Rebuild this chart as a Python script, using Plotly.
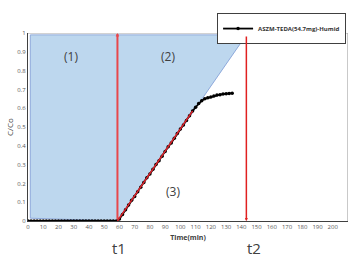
import plotly.graph_objects as go

# Data
time_min = [0, 2, 4, 6, 8, 10, 12, 14, 16, 18, 20, 22, 24, 26, 28, 30, 32, 34, 36, 38,
            40, 42, 44, 46, 48, 50, 52, 54, 56, 58, 60, 62, 64, 66, 68, 70, 72, 74, 76, 78,
            80, 82, 84, 86, 88, 90, 92, 94, 96, 98, 100, 102, 104, 106, 108, 110, 112, 114,
            116, 118, 120, 122, 124, 126, 128, 130, 132, 134]
c_co = [0, 0, 0, 0, 0, 0, 0, 0, 0, 0, 0, 0, 0, 0, 0, 0, 0, 0, 0, 0,
        0, 0, 0, 0, 0, 0, 0, 0, 0, 0, 0.01, 0.035, 0.06, 0.085, 0.11, 0.13, 0.155, 0.18, 0.205, 0.23,
        0.25, 0.275, 0.30, 0.32, 0.345, 0.37, 0.395, 0.415, 0.44, 0.465, 0.49, 0.51, 0.535, 0.56,
        0.585, 0.605, 0.625, 0.64, 0.65, 0.655, 0.66, 0.665, 0.67, 0.672, 0.675, 0.677, 0.678, 0.68]
series_name = "ASZM-TEDA(54.7mg)-Humid"
t1 = 58.7
t2 = 143.3
x_ticks = list(range(0, 211, 10))
y_ticks = [0, 0.1, 0.2, 0.3, 0.4, 0.5, 0.6, 0.7, 0.8, 0.9, 1]

fig = go.Figure()
fig.add_trace(go.Scatter(
    x=time_min, y=c_co, name=f"<b>{series_name}</b>", mode="lines+markers",
    line=dict(color="black", width=1.8),
    marker=dict(color="black", size=3.5),
))

shapes = [
    # blue shaded region
    dict(type="path", xref="x", yref="y",
         path=f"M 1.5,0.015 L 1.5,0.99 L {t2},0.99 L {t1},0.0 Z",
         fillcolor="#BDD7EE", line=dict(color="#8EA9DB", width=1), layer="below"),
    # plot box top/right
    dict(type="line", xref="x", yref="y", x0=0, x1=210, y0=1, y1=1,
         line=dict(color="#A6A6A6", width=1.2)),
    dict(type="line", xref="x", yref="y", x0=210, x1=210, y0=0, y1=1,
         line=dict(color="#A6A6A6", width=1.2)),
    # red tangent
    dict(type="line", xref="x", yref="y", x0=t1, y0=0, x1=108, y1=0.585,
         line=dict(color="#D9232A", width=1.5), layer="above"),
]

annotations = [
    # red arrows
    dict(x=t1, y=1, ax=t1, ay=0, xref="x", yref="y", axref="x", ayref="y",
         text="", showarrow=True, arrowhead=2, arrowsize=0.35, arrowwidth=2, arrowcolor="#E8474B"),
    dict(x=t2, y=0, ax=t2, ay=0.99, xref="x", yref="y", axref="x", ayref="y",
         text="", showarrow=True, arrowhead=2, arrowsize=0.4, arrowwidth=1.5, arrowcolor="#E02020"),
    dict(x=28.5, y=0.875, xref="x", yref="y", text="(1)", showarrow=False,
         font=dict(size=12, color="#404040", family="Open Sans")),
    dict(x=92, y=0.875, xref="x", yref="y", text="(2)", showarrow=False,
         font=dict(size=12, color="#404040", family="Open Sans")),
    dict(x=95, y=0.155, xref="x", yref="y", text="(3)", showarrow=False,
         font=dict(size=12, color="#404040", family="Open Sans")),
    dict(x=60, y=-0.145, xref="x", yref="paper", text="t1", showarrow=False, yanchor="middle",
         font=dict(size=15, color="#404040", family="Open Sans")),
    dict(x=148, y=-0.145, xref="x", yref="paper", text="t2", showarrow=False, yanchor="middle",
         font=dict(size=15, color="#404040", family="Open Sans")),
]

fig.update_layout(
    width=353, height=259,
    margin=dict(l=28, r=5, t=33, b=38),
    paper_bgcolor="white", plot_bgcolor="white",
    shapes=shapes, annotations=annotations,
    showlegend=True,
    legend=dict(x=0.994, y=1.106, xanchor="right", yanchor="top",
                bordercolor="#404040", borderwidth=1, bgcolor="white",
                font=dict(size=6, color="#333333", family="Open Sans"),
                itemwidth=30, tracegroupgap=0),
    font=dict(family="Open Sans"),
)
fig.update_xaxes(range=[0, 210], tickvals=x_ticks, ticktext=[str(v) for v in x_ticks],
                 showgrid=False, zeroline=False, showline=True, linecolor="#404040", linewidth=1,
                 ticks="", tickfont=dict(size=6, color="#595959"),
                 title=dict(text="<b>Time(min)</b>", font=dict(size=7, color="#404040"), standoff=4))
fig.update_yaxes(range=[0, 1], tickvals=y_ticks, ticktext=[str(v) for v in y_ticks],
                 showgrid=False, zeroline=False, showline=True, linecolor="#404040", linewidth=1,
                 ticks="", tickfont=dict(size=6, color="#595959"),
                 title=dict(text="C/Co", font=dict(size=8, color="#404040"), standoff=2))

fig.write_html("out.html")
